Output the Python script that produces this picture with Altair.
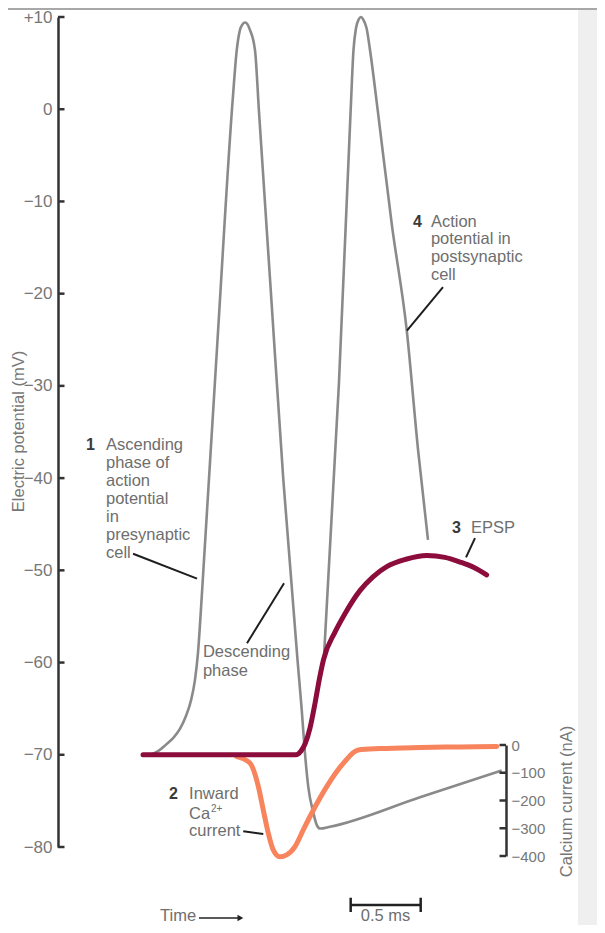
import altair as alt
import pandas as pd

# ---------------- data ----------------
# time in ms, potential in mV
pre_t = [0.656, 0.713, 0.770, 0.820, 0.869, 0.912, 0.948, 0.976, 0.998, 1.014, 1.032, 1.137,
         1.245, 1.274, 1.297, 1.315, 1.333, 1.351, 1.368, 1.404, 1.433, 1.518, 1.606, 1.707,
         1.737, 1.760, 1.784, 1.820, 1.844, 1.867, 1.939, 2.580, 3.162]
pre_mv = [-70.0, -69.6, -68.9, -68.2, -67.2, -65.8, -64.1, -61.9, -58.9, -55.4, -51.0, -25.0,
          1.0, 6.4, 8.6, 9.2, 9.4, 9.2, 8.6, 6.4, -0.4, -20.0, -40.2, -59.7,
          -65.1, -69.8, -73.5, -76.3, -77.6, -78.0, -77.8, -74.6, -71.7]

post_t = [1.895, 2.002, 2.085, 2.106, 2.124, 2.142, 2.157, 2.177, 2.199, 2.224, 2.281, 2.380,
          2.485, 2.566, 2.637]
post_mv = [-59.6, -29.8, -0.4, 6.4, 8.8, 9.7, 10.0, 9.7, 8.8, 6.4, -0.4, -12.6,
           -23.9, -36.9, -46.7]

epsp_t = [0.606, 1.696, 1.732, 1.761, 1.796, 1.832, 1.864, 1.892, 1.974, 2.045, 2.152, 2.245,
          2.343, 2.480, 2.628, 2.758, 2.865, 2.965, 3.055]
epsp_mv = [-70.0, -70.0, -69.6, -68.8, -67.1, -64.4, -61.7, -59.7, -56.7, -54.7, -52.2, -50.7,
           -49.6, -48.8, -48.4, -48.6, -49.1, -49.7, -50.5]

# calcium current in nA
ca_t = [1.274, 1.368, 1.428, 1.463, 1.499, 1.534, 1.582, 1.630, 1.689, 1.748, 1.808, 1.915,
        2.033, 2.140, 2.295, 2.580, 2.865, 3.127]
ca_na = [-42, -65, -150, -234, -318, -378, -403, -396, -366, -306, -246, -150,
         -66, -18, -13, -9, -7, -5]

mv_ticks = [10, 0, -10, -20, -30, -40, -50, -60, -70, -80]
ca_ticks = [0, -100, -200, -300, -400]

# annotations (placed in data coordinates)
note_text = ["Ascending", "phase of", "action", "potential", "in", "presynaptic", "cell",
             "Descending", "phase",
             "Inward", "Ca", "current",
             "EPSP",
             "Action", "potential in", "postsynaptic", "cell"]
note_t = [0.342] * 7 + [1.033] * 2 + [0.934] * 3 + [2.943] + [2.658] * 4
note_mv = [-36.4, -38.4, -40.3, -42.3, -44.2, -46.2, -48.1,
           -58.9, -60.9,
           -74.2, -76.4, -78.3,
           -45.4,
           -12.2, -14.1, -16.0, -18.0]
num_text = ["1", "2", "3", "4"]
num_t = [0.200, 0.791, 2.808, 2.530]
num_mv = [-36.4, -74.2, -45.4, -12.2]
sup_text = ["2+"]
sup_t = [1.090]
sup_mv = [-75.85]

lead_t1 = [0.535, 1.347, 1.320, 2.972, 2.744]
lead_t2 = [0.991, 1.611, 1.463, 2.908, 2.487]
lead_m1 = [-48.2, -57.9, -78.3, -46.5, -19.3]
lead_m2 = [-50.9, -51.4, -78.6, -48.6, -24.0]

bar_t = [2.086, 2.585]
bar_mv = [-86.3]
bar_cap = [-85.5, -87.05]
bar_label = ["0.5 ms"]
bar_label_t = [2.335]
bar_label_mv = [-88.0]

time_label = ["Time"]
time_label_t = [0.727]
time_label_mv = [-88.0]
arrow_t = [1.005, 1.300]
arrow_mv = [-87.7]

# ---------------- chart ----------------
FONT = "Liberation Sans"
TXT = "#6e6e6e"
AX = "#333333"

X = alt.Scale(domain=[0, 3.193], nice=False, zero=False)


def ymv():
    return alt.Y("mv:Q", scale=alt.Scale(domain=[-80, 10], nice=False, zero=False), axis=None)


xenc = alt.X("t:Q", scale=X, axis=None)

ap_df = pd.DataFrame({
    "t": pre_t + post_t,
    "mv": pre_mv + post_mv,
    "cell": ["pre"] * len(pre_t) + ["post"] * len(post_t),
})
epsp_df = pd.DataFrame({"t": epsp_t, "mv": epsp_mv})
ca_df = pd.DataFrame({"t": ca_t, "na": ca_na})
backdrop = pd.DataFrame({"k": [0]})

band = alt.Chart(backdrop).mark_rect(color="#efefef").encode(
    x=alt.value(520), x2=alt.value(540), y=alt.value(-9), y2=alt.value(909))
topline = alt.Chart(backdrop).mark_rule(color="#a8a8a8", strokeWidth=2).encode(
    x=alt.value(-50), x2=alt.value(540), y=alt.value(-8))

grey = alt.Chart(ap_df).mark_line(color="#8a8a8a", strokeWidth=2.6, interpolate="monotone").encode(
    x=xenc,
    y=alt.Y("mv:Q", scale=alt.Scale(domain=[-80, 10], nice=False, zero=False), axis=alt.Axis(
        orient="left", values=mv_ticks, ticks=False, grid=False,
        domainColor=AX, domainWidth=2.5,
        labelFont=FONT, labelFontSize=17, labelColor="#777777", labelPadding=6,
        labelExpr="datum.value > 0 ? '+' + datum.label : datum.label",
        title="Electric potential (mV)", titleFont=FONT, titleFontSize=16.5,
        titleFontWeight="normal", titleColor="#777777", titleAngle=270,
        titleX=-35, titleY=414, titleAlign="center", titleBaseline="alphabetic")),
    detail="cell:N",
)
left_ticks = alt.Chart(pd.DataFrame({"mv": mv_ticks})).mark_rule(color=AX, strokeWidth=2.5).encode(
    y=ymv(), x=alt.value(0), x2=alt.value(6.5))

YCA = alt.Scale(domain=[-400, 0], range=[839, 728], nice=False, zero=False)
orange = alt.Chart(ca_df).mark_line(color="#f7845c", strokeWidth=5, interpolate="monotone",
                                    strokeCap="round").encode(
    x=xenc,
    y=alt.Y("na:Q", scale=YCA, axis=alt.Axis(
        orient="right", values=ca_ticks, ticks=False, grid=False,
        domainColor=AX, domainWidth=2.5,
        labelFont=FONT, labelFontSize=15, labelColor="#777777", labelPadding=5,
        title="Calcium current (nA)", titleFont=FONT, titleFontSize=16.5,
        titleFontWeight="normal", titleColor="#777777", titleAngle=270,
        titleX=65, titleY=784, titleAlign="center", titleBaseline="alphabetic")),
)
right_ticks = alt.Chart(pd.DataFrame({"na": ca_ticks})).mark_rule(color=AX, strokeWidth=2.5).encode(
    y=alt.Y("na:Q", scale=alt.Scale(domain=[-400, 0], range=[839, 728], nice=False, zero=False), axis=None),
    x=alt.value(441.5), x2=alt.value(448))

maroon = alt.Chart(epsp_df).mark_line(color="#8c0c3c", strokeWidth=5, interpolate="monotone",
                                      strokeCap="round").encode(x=xenc, y=ymv())

lead_df = pd.DataFrame({"t": lead_t1, "t2": lead_t2, "mv": lead_m1, "mv2": lead_m2})
leaders = alt.Chart(lead_df).mark_rule(color="#1e1e1e", strokeWidth=2).encode(
    x=xenc, x2="t2:Q", y=ymv(), y2="mv2:Q")

notes = alt.Chart(pd.DataFrame({"t": note_t, "mv": note_mv, "s": note_text})).mark_text(
    align="left", baseline="middle", font=FONT, fontSize=16.5, color=TXT).encode(
    x=xenc, y=ymv(), text="s:N")
nums = alt.Chart(pd.DataFrame({"t": num_t, "mv": num_mv, "s": num_text})).mark_text(
    align="left", baseline="middle", font=FONT, fontSize=16, fontWeight="bold", color="#3a3a3a").encode(
    x=xenc, y=ymv(), text="s:N")
sup = alt.Chart(pd.DataFrame({"t": sup_t, "mv": sup_mv, "s": sup_text})).mark_text(
    align="left", baseline="middle", font=FONT, fontSize=10, color=TXT).encode(
    x=xenc, y=ymv(), text="s:N")

bar_df = pd.DataFrame({"t": [bar_t[0]], "t2": [bar_t[1]], "mv": bar_mv})
bar = alt.Chart(bar_df).mark_rule(color="#222222", strokeWidth=2.5).encode(x=xenc, x2="t2:Q", y=ymv())
caps_df = pd.DataFrame({"t": bar_t, "mv": [bar_cap[0]] * 2, "mv2": [bar_cap[1]] * 2})
caps = alt.Chart(caps_df).mark_rule(color="#222222", strokeWidth=2.5).encode(x=xenc, y=ymv(), y2="mv2:Q")
bar_txt = alt.Chart(pd.DataFrame({"t": bar_label_t, "mv": bar_label_mv, "s": bar_label})).mark_text(
    align="center", baseline="alphabetic", font=FONT, fontSize=16.5, color=TXT).encode(
    x=xenc, y=ymv(), text="s:N")

time_txt = alt.Chart(pd.DataFrame({"t": time_label_t, "mv": time_label_mv, "s": time_label})).mark_text(
    align="left", baseline="alphabetic", font=FONT, fontSize=16.5, color=TXT).encode(
    x=xenc, y=ymv(), text="s:N")
arrow = alt.Chart(pd.DataFrame({"t": [arrow_t[0]], "t2": [arrow_t[1]], "mv": arrow_mv})).mark_rule(
    color="#222222", strokeWidth=1.6).encode(x=xenc, x2="t2:Q", y=ymv())
arrow_head = alt.Chart(pd.DataFrame({"t": [arrow_t[1]], "mv": arrow_mv})).mark_point(
    shape="triangle-right", filled=True, size=45, color="#222222", opacity=1).encode(x=xenc, y=ymv())

chart = alt.layer(
    band, topline, grey, left_ticks, orange, right_ticks, maroon, leaders,
    notes, nums, sup, bar, caps, bar_txt, time_txt, arrow, arrow_head,
).resolve_scale(y="independent").properties(
    width=448, height=830,
    padding={"left": 50, "top": 9, "right": 91, "bottom": 78},
    autosize=alt.AutoSizeParams(type="none"),
).configure_view(strokeWidth=0)

chart.save("out.html", embed_options={"renderer": "svg", "actions": False})
